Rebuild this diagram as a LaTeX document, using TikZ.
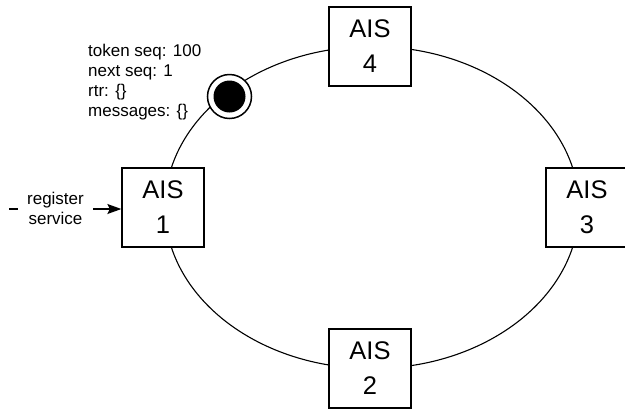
\documentclass[tikz,border=0pt]{standalone}
\usepackage{fontspec}
\setmainfont{Liberation Sans}
\usetikzlibrary{arrows.meta}
\begin{document}
\begin{tikzpicture}[x=1pt,y=-1pt,
  aisbox/.style={draw, fill=white, line width=1.3pt, minimum width=82pt,
    minimum height=79pt, inner sep=0pt, align=center,
    font=\fontsize{25.5}{35}\selectfont},
  ring/.style={line width=1.1pt},
  note/.style={align=left, inner sep=0pt, font=\fontsize{17}{20}\selectfont},
  lbl/.style={fill=white, align=center, inner xsep=9pt, inner ysep=2pt,
    font=\fontsize{17}{20}\selectfont}]
  \useasboundingbox (0,0) rectangle (625,408);

  % token ring
  \draw[ring] (372,207.5) ellipse [x radius=207, y radius=161];

  % ring members
  \node[aisbox] (ais1) at (163,207.5) {AIS\\1};
  \node[aisbox] (ais2) at (370,368.5) {AIS\\2};
  \node[aisbox] (ais3) at (587,207.5) {AIS\\3};
  \node[aisbox] (ais4) at (370,46.5) {AIS\\4};

  % the token travelling on the ring
  \node[circle, draw, fill=white, line width=1.5pt, minimum size=44pt,
    inner sep=0pt] (token) at (229.5,96.5) {};
  \node[circle, fill=black, minimum size=32pt, inner sep=0pt]
    (tokencore) at (token.center) {};

  % token state
  \node[note, anchor=north west] (state) at (88,43.5)
    {token seq: 100\\next seq: 1\\rtr: \{\}\\messages: \{\}};

  % incoming registration
  \coordinate (regsrc) at (9,209);
  \draw[line width=1.2pt, -{Stealth[length=14pt, width=10pt, inset=2.5pt]}]
    (regsrc) -- (regsrc -| ais1.west);
  \node[lbl] (reglabel) at (55.5,208.5) {register\\service};
\end{tikzpicture}
\end{document}
